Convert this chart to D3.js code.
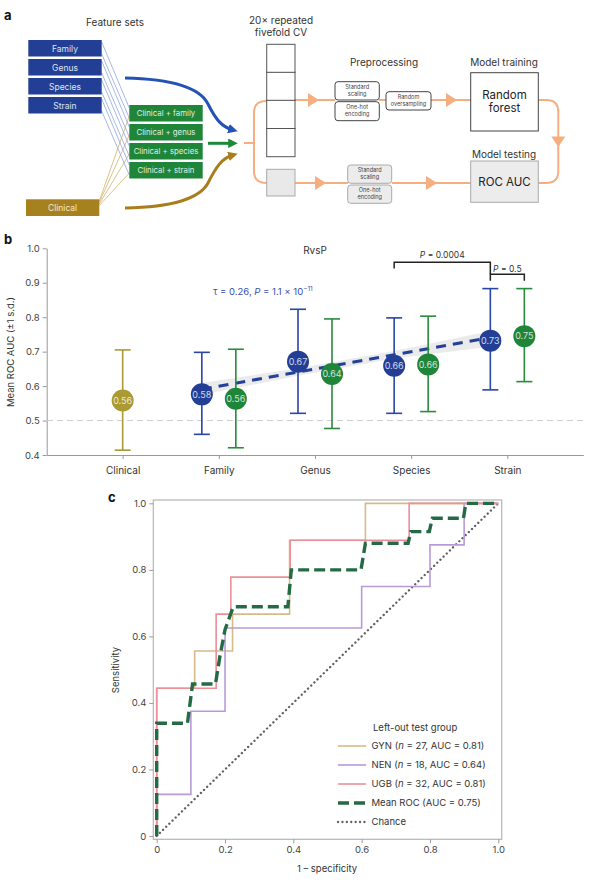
<!DOCTYPE html>
<html>
<head>
<meta charset="utf-8">
<script src="https://cdn.jsdelivr.net/npm/d3@7"></script>
<style>
  body { margin: 0; background: #fff; }
  text { font-family: Inter, "Noto Sans", sans-serif; }
</style>
</head>
<body>
<div id="fig"></div>
<script>
// ---- panel a labels
const featureSets = ['Family', 'Genus', 'Species', 'Strain'];
const combinedSets = ['Clinical + family', 'Clinical + genus', 'Clinical + species', 'Clinical + strain'];

// ---- panel b data (mean ROC AUC, ±1 s.d.)
const bCats = ['Clinical', 'Family', 'Genus', 'Species', 'Strain'];
const clinCats = ['Clinical'];
const clinMean = [0.558];
const clinLow = [0.414];
const clinHigh = [0.705];
const clinLabel = ['0.56'];
const microCats = ['Family', 'Genus', 'Species', 'Strain'];
const microMean = [0.576, 0.671, 0.659, 0.732];
const microLow = [0.460, 0.521, 0.521, 0.589];
const microHigh = [0.698, 0.823, 0.798, 0.883];
const microLabel = ['0.58', '0.67', '0.66', '0.73'];
const combMean = [0.563, 0.635, 0.663, 0.745];
const combLow = [0.421, 0.477, 0.526, 0.613];
const combHigh = [0.707, 0.795, 0.803, 0.883];
const combLabel = ['0.56', '0.64', '0.66', '0.75'];
const trendFit = [0.591, 0.641, 0.691, 0.741];
const trendLow = [0.575, 0.630, 0.680, 0.714];
const trendHigh = [0.609, 0.652, 0.702, 0.760];
const bTicks = [0.4, 0.5, 0.6, 0.7, 0.8, 0.9, 1.0];

// ---- panel c data (ROC curves)
const gynX = [0, 0, 0.111, 0.111, 0.222, 0.222, 0.389, 0.389, 0.611, 0.611, 1];
const gynY = [0, 0.444, 0.444, 0.556, 0.556, 0.667, 0.667, 0.889, 0.889, 1, 1];
const nenX = [0, 0, 0.1, 0.1, 0.2, 0.2, 0.6, 0.6, 0.8, 0.8, 0.9, 0.9, 1];
const nenY = [0, 0.125, 0.125, 0.375, 0.375, 0.625, 0.625, 0.75, 0.75, 0.875, 0.875, 1, 1];
const ugbX = [0, 0, 0.174, 0.174, 0.217, 0.217, 0.391, 0.391, 0.739, 0.739, 1];
const ugbY = [0, 0.444, 0.444, 0.667, 0.667, 0.778, 0.778, 0.889, 0.889, 1, 1];
const meanX = [0, 0, 0.09, 0.105, 0.172, 0.185, 0.2, 0.224, 0.384, 0.394, 0.598, 0.611, 0.736, 0.744, 0.798, 0.807, 0.898, 0.905, 1];
const meanY = [0, 0.339, 0.339, 0.457, 0.457, 0.54, 0.62, 0.689, 0.689, 0.80, 0.80, 0.88, 0.88, 0.915, 0.915, 0.955, 0.955, 1, 1];
const chanceX = [0, 1];
const chanceY = [0, 1];
const cTicks = [0, 0.2, 0.4, 0.6, 0.8, 1.0];
const legendNames = ['GYN', 'NEN', 'UGB'];
const legendN = [27, 18, 32];
const legendAUC = ['0.81', '0.64', '0.81'];

const svg = d3.select('#fig').append('svg')
  .attr('width', 600).attr('height', 889);

const BLUE = '#233f95', GREEN = '#1f8539', OLIVE = '#a99a35';
const ORANGE = '#f4ae80';

// arrow markers
const defs = svg.append('defs');
[['blue', '#2553b5'], ['green', '#1b8a3b'], ['gold', '#a87d1c']].forEach(([id, c]) => {
  defs.append('marker').attr('id', 'arr-' + id)
    .attr('viewBox', '0 0 10 10').attr('refX', 5).attr('refY', 5)
    .attr('markerWidth', 3.2).attr('markerHeight', 3.2).attr('orient', 'auto')
    .append('path').attr('d', 'M0,0 L10,5 L0,10 Z').attr('fill', c);
});

function panelLabel(t, x, y) {
  svg.append('text').attr('x', x).attr('y', y).text(t)
    .attr('font-size', 13).attr('font-weight', 'bold').attr('fill', '#111');
}

// ================= panel a =================
panelLabel('a', 4, 20);
const a = svg.append('g');
a.append('text').attr('x', 115).attr('y', 26).attr('text-anchor', 'middle')
  .attr('font-size', 10).attr('fill', '#333').text('Feature sets');

// connector lines (drawn under boxes)
featureSets.forEach((f, i) => {
  const by = 40 + i * 19, gy = 105 + i * 19;
  a.append('line').attr('x1', 101.7).attr('y1', by + 2).attr('x2', 129.3).attr('y2', gy + 3)
    .attr('stroke', '#8ea6e0').attr('stroke-width', 0.8);
  a.append('line').attr('x1', 101.7).attr('y1', by + 14).attr('x2', 129.3).attr('y2', gy + 13)
    .attr('stroke', '#8ea6e0').attr('stroke-width', 0.8);
  a.append('line').attr('x1', 99.3).attr('y1', 201 + i * 1.5).attr('x2', 129.3).attr('y2', gy + 11)
    .attr('stroke', '#d3b36a').attr('stroke-width', 0.8);
});

featureSets.forEach((f, i) => {
  const y = 40 + i * 19;
  a.append('rect').attr('x', 28.3).attr('y', y).attr('width', 73.4).attr('height', 16.5).attr('fill', BLUE);
  a.append('text').attr('x', 65).attr('y', y + 11.5).attr('text-anchor', 'middle')
    .attr('font-size', 8.5).attr('fill', '#dfe4f4').text(f);
});
combinedSets.forEach((f, i) => {
  const y = 105 + i * 19;
  a.append('rect').attr('x', 129.3).attr('y', y).attr('width', 73.4).attr('height', 16.5).attr('fill', GREEN);
  a.append('text').attr('x', 166).attr('y', y + 11.3).attr('text-anchor', 'middle')
    .attr('font-size', 7.8).attr('fill', '#e0efe3').text(f);
});
a.append('rect').attr('x', 26).attr('y', 199.3).attr('width', 73.3).attr('height', 16.7).attr('fill', '#a8811f');
a.append('text').attr('x', 62.6).attr('y', 211).attr('text-anchor', 'middle')
  .attr('font-size', 8.5).attr('fill', '#f3e8cf').text('Clinical');

// big arrows
a.append('path').attr('d', 'M125,78 C175,79 200,88 208,104 C216,120 222,127 233,130')
  .attr('fill', 'none').attr('stroke', '#2553b5').attr('stroke-width', 3).attr('marker-end', 'url(#arr-blue)');
a.append('path').attr('d', 'M208,143.3 L233,143.3')
  .attr('fill', 'none').attr('stroke', '#1b8a3b').attr('stroke-width', 3).attr('marker-end', 'url(#arr-green)');
a.append('path').attr('d', 'M125,208 C175,207 200,198 208,183 C216,167 222,158 233,155')
  .attr('fill', 'none').attr('stroke', '#a87d1c').attr('stroke-width', 3).attr('marker-end', 'url(#arr-gold)');

// CV header
a.append('text').attr('x', 281).attr('y', 24).attr('text-anchor', 'middle')
  .attr('font-size', 10).attr('fill', '#333').text('20× repeated');
a.append('text').attr('x', 281).attr('y', 36).attr('text-anchor', 'middle')
  .attr('font-size', 10).attr('fill', '#333').text('fivefold CV');

// orange flow lines
const flow = a.append('g').attr('fill', 'none').attr('stroke', ORANGE).attr('stroke-width', 2);
flow.append('path').attr('d', 'M244,143 H254');
flow.append('path').attr('d', 'M267,101 H266 Q254,101 254,113 V171 Q254,183 266,183 H267');
flow.append('path').attr('d', 'M295,100 H335');
flow.append('path').attr('d', 'M379,100 H386');
flow.append('path').attr('d', 'M431,100 H471');
flow.append('path').attr('d', 'M538,100 H546 Q558.3,100 558.3,112 V171 Q558.3,183 546,183 H538');
flow.append('path').attr('d', 'M295,183 H348');
flow.append('path').attr('d', 'M392,183 H471');

const tri = a.append('g').attr('fill', ORANGE);
[[308, 100], [446, 100], [315, 183], [426, 183]].forEach(([x, y]) => {
  tri.append('path').attr('d', `M${x},${y - 7} L${x + 11},${y} L${x},${y + 7} Z`);
});
tri.append('path').attr('d', 'M551.3,136.5 L565.3,136.5 L558.3,147 Z');

// CV stack
[44.3, 72.3, 100.3, 128.5].forEach(y => {
  a.append('rect').attr('x', 266.7).attr('y', y).attr('width', 28.3).attr('height', 28.2)
    .attr('fill', '#fff').attr('stroke', '#555').attr('stroke-width', 1);
});
a.append('rect').attr('x', 266.7).attr('y', 169.3).attr('width', 28.3).attr('height', 26.7)
  .attr('fill', '#e9e9e9').attr('stroke', '#aaa').attr('stroke-width', 1);

a.append('text').attr('x', 384).attr('y', 66).attr('text-anchor', 'middle')
  .attr('font-size', 10).attr('fill', '#333').text('Preprocessing');
a.append('text').attr('x', 504).attr('y', 66).attr('text-anchor', 'middle')
  .attr('font-size', 10).attr('fill', '#333').text('Model training');
a.append('text').attr('x', 504).attr('y', 158).attr('text-anchor', 'middle')
  .attr('font-size', 10).attr('fill', '#333').text('Model testing');

function smallBox(x, y, w, h, lines, fill, stroke) {
  a.append('rect').attr('x', x).attr('y', y).attr('width', w).attr('height', h).attr('rx', 3)
    .attr('fill', fill).attr('stroke', stroke).attr('stroke-width', 1);
  lines.forEach((t, k) => {
    a.append('text').attr('x', x + w / 2).attr('y', y + h / 2 - 1 + (k - (lines.length - 1) / 2) * 7.5 + 2.5)
      .attr('text-anchor', 'middle').attr('font-size', 5.6).attr('fill', '#444').text(t);
  });
}
smallBox(335, 81.7, 44.3, 18.3, ['Standard', 'scaling'], '#fff', '#444');
smallBox(335, 101.7, 44.3, 19, ['One-hot', 'encoding'], '#fff', '#444');
smallBox(386, 91.7, 45, 18.3, ['Random', 'oversampling'], '#fff', '#444');
smallBox(347.7, 165, 44, 18.3, ['Standard', 'scaling'], '#ececec', '#aaa');
smallBox(347.7, 185, 44, 18.3, ['One-hot', 'encoding'], '#ececec', '#aaa');

a.append('rect').attr('x', 470.7).attr('y', 72.7).attr('width', 67.6).attr('height', 58.3)
  .attr('fill', '#fff').attr('stroke', '#444').attr('stroke-width', 1);
a.append('text').attr('x', 504.5).attr('y', 99).attr('text-anchor', 'middle')
  .attr('font-size', 11.5).attr('fill', '#222').text('Random');
a.append('text').attr('x', 504.5).attr('y', 111.5).attr('text-anchor', 'middle')
  .attr('font-size', 11.5).attr('fill', '#222').text('forest');
a.append('rect').attr('x', 470.7).attr('y', 161).attr('width', 67.6).attr('height', 41.3)
  .attr('fill', '#ececec').attr('stroke', '#aaa').attr('stroke-width', 1);
a.append('text').attr('x', 504.5).attr('y', 186).attr('text-anchor', 'middle')
  .attr('font-size', 11.5).attr('fill', '#222').text('ROC AUC');

// ================= panel b =================
panelLabel('b', 4, 244);
const b = svg.append('g');
const xb = d3.scalePoint().domain(bCats).range([46.7, 583.3]).padding(0.79);
const yb = d3.scaleLinear().domain([0.4, 1.0]).range([455, 248.3]);

b.append('g').attr('transform', 'translate(46.7,0)')
  .call(d3.axisLeft(yb).tickValues(bTicks).tickFormat(d3.format('.1f')).tickSize(4).tickSizeOuter(0))
  .call(g => g.selectAll('text').attr('font-size', 9.5).attr('fill', '#444').attr('font-family', 'Inter, sans-serif'))
  .call(g => g.selectAll('line,path').attr('stroke', '#999'));
b.append('g').attr('transform', 'translate(0,455)')
  .call(d3.axisBottom(xb).tickSize(4).tickSizeOuter(0).tickPadding(8))
  .call(g => g.selectAll('text').attr('font-size', 10).attr('fill', '#333').attr('font-family', 'Inter, sans-serif'))
  .call(g => g.selectAll('line,path').attr('stroke', '#999'));

b.append('text').attr('transform', 'translate(14,352) rotate(-90)').attr('text-anchor', 'middle')
  .attr('font-size', 9.5).attr('fill', '#333').text('Mean ROC AUC (±1 s.d.)');

b.append('line').attr('x1', 47).attr('x2', 583).attr('y1', yb(0.5)).attr('y2', yb(0.5))
  .attr('stroke', '#cfcfcf').attr('stroke-width', 1).attr('stroke-dasharray', '6,4');

b.append('text').attr('x', 315).attr('y', 254).attr('text-anchor', 'middle')
  .attr('font-size', 10).attr('fill', '#333').text('RvsP');

const tauT = b.append('text').attr('x', 213).attr('y', 295).attr('font-size', 9.5).attr('fill', '#3a4fb0');
tauT.append('tspan').text('τ = 0.26, ');
tauT.append('tspan').attr('font-style', 'italic').text('P');
tauT.append('tspan').text(' = 1.1 × 10');
tauT.append('tspan').attr('font-size', 6.5).attr('dy', -4).text('−11');

// trend band + dashed fit
const OFF = 17;
const trendData = microCats.map((c, i) => ({ c, f: trendFit[i], lo: trendLow[i], hi: trendHigh[i] }));
b.append('path').datum(trendData)
  .attr('d', d3.area().x(d => xb(d.c) - OFF).y0(d => yb(d.lo)).y1(d => yb(d.hi)))
  .attr('fill', '#ebebeb');
b.append('path').datum([trendData[0], trendData[3]])
  .attr('d', d3.line().x(d => xb(d.c) - OFF).y(d => yb(d.f)))
  .attr('fill', 'none').attr('stroke', '#23409a').attr('stroke-width', 3).attr('stroke-dasharray', '10,7');

function errSeries(cats, mean, lo, hi, labels, off, barColor, dotColor) {
  const g = b.append('g');
  cats.forEach((c, i) => {
    const x = xb(c) + off;
    g.append('line').attr('x1', x).attr('x2', x).attr('y1', yb(lo[i])).attr('y2', yb(hi[i]))
      .attr('stroke', barColor).attr('stroke-width', 1.6);
    [lo[i], hi[i]].forEach(v => {
      g.append('line').attr('x1', x - 8).attr('x2', x + 8).attr('y1', yb(v)).attr('y2', yb(v))
        .attr('stroke', barColor).attr('stroke-width', 1.6);
    });
    g.append('circle').attr('cx', x).attr('cy', yb(mean[i])).attr('r', 11).attr('fill', dotColor);
    g.append('text').attr('x', x).attr('y', yb(mean[i]) + 3.3).attr('text-anchor', 'middle')
      .attr('font-size', 9).attr('fill', '#fff').attr('fill-opacity', 0.8).text(labels[i]);
  });
}
errSeries(clinCats, clinMean, clinLow, clinHigh, clinLabel, 0, OLIVE, OLIVE);
errSeries(microCats, microMean, microLow, microHigh, microLabel, -OFF, '#2a45a8', BLUE);
errSeries(microCats, combMean, combLow, combHigh, combLabel, OFF, '#2a8a3d', GREEN);

// significance brackets
const br = b.append('g').attr('fill', 'none').attr('stroke', '#222').attr('stroke-width', 1.5);
const sx = xb('Species') - OFF, tx = xb('Strain') - OFF, tx2 = xb('Strain') + OFF;
br.append('path').attr('d', `M${sx},268.5 V262.3 H${tx} V274.3`);
br.append('path').attr('d', `M${tx},280.7 V274.3 H${tx2} V280.7`);
const p1 = b.append('text').attr('x', (sx + tx) / 2).attr('y', 258).attr('text-anchor', 'middle')
  .attr('font-size', 8.5).attr('fill', '#333');
p1.append('tspan').attr('font-style', 'italic').text('P');
p1.append('tspan').text(' = 0.0004');
const p2 = b.append('text').attr('x', (tx + tx2) / 2).attr('y', 272).attr('text-anchor', 'middle')
  .attr('font-size', 8.5).attr('fill', '#333');
p2.append('tspan').attr('font-style', 'italic').text('P');
p2.append('tspan').text(' = 0.5');

// ================= panel c =================
panelLabel('c', 108, 502);
const c = svg.append('g');
const xc = d3.scaleLinear().domain([-0.01, 1.01]).range([153.3, 501.7]);
const yc = d3.scaleLinear().domain([-0.01, 1.01]).range([839.3, 500]);
const fmtC = d => d === 0 ? '0' : d3.format('.1f')(d);

c.append('rect').attr('x', 153.3).attr('y', 500).attr('width', 348.4).attr('height', 339.3)
  .attr('fill', 'none').attr('stroke', '#b5b5b5').attr('stroke-width', 1.2);
c.append('g').attr('transform', 'translate(153.3,0)')
  .call(d3.axisLeft(yc).tickValues(cTicks).tickFormat(fmtC).tickSize(4).tickSizeOuter(0))
  .call(g => g.select('.domain').remove())
  .call(g => g.selectAll('text').attr('font-size', 9.5).attr('fill', '#444').attr('font-family', 'Inter, sans-serif'))
  .call(g => g.selectAll('line').attr('stroke', '#999'));
c.append('g').attr('transform', 'translate(0,839.3)')
  .call(d3.axisBottom(xc).tickValues(cTicks).tickFormat(fmtC).tickSize(4).tickSizeOuter(0))
  .call(g => g.select('.domain').remove())
  .call(g => g.selectAll('text').attr('font-size', 9.5).attr('fill', '#444').attr('font-family', 'Inter, sans-serif'))
  .call(g => g.selectAll('line').attr('stroke', '#999'));

c.append('text').attr('transform', 'translate(119,670) rotate(-90)').attr('text-anchor', 'middle')
  .attr('font-size', 9.5).attr('fill', '#333').text('Sensitivity');
c.append('text').attr('x', 327).attr('y', 872).attr('text-anchor', 'middle')
  .attr('font-size', 9.5).attr('fill', '#333').text('1 – specificity');

const lineC = d3.line().x(d => xc(d[0])).y(d => yc(d[1]));
const zip = (xs, ys) => xs.map((v, i) => [v, ys[i]]);

const rocStyles = [
  { xs: chanceX, ys: chanceY, color: '#606060', w: 2.3, dash: '0.1,4.3', cap: 'round' },
  { xs: gynX, ys: gynY, color: '#d8b988', w: 1.6 },
  { xs: nenX, ys: nenY, color: '#b79bd8', w: 1.6 },
  { xs: ugbX, ys: ugbY, color: '#ee8e98', w: 1.6 },
  { xs: meanX, ys: meanY, color: '#236a45', w: 3.4, dash: '11,5' }
];
rocStyles.forEach(s => {
  c.append('path').datum(zip(s.xs, s.ys)).attr('d', lineC)
    .attr('fill', 'none').attr('stroke', s.color).attr('stroke-width', s.w)
    .attr('stroke-dasharray', s.dash || null).attr('stroke-linecap', s.cap || 'butt');
});

// legend
const lg = c.append('g');
lg.append('text').attr('x', 373).attr('y', 731).attr('font-size', 9.5).attr('fill', '#333').text('Left-out test group');
const legItems = legendNames.map((n, i) => ({ n, style: rocStyles[i + 1], num: legendN[i], auc: legendAUC[i] }));
legItems.push({ mean: true, style: rocStyles[4] });
legItems.push({ chance: true, style: rocStyles[0] });
legItems.forEach((d, i) => {
  const y = 746 + i * 19;
  lg.append('line').attr('x1', 338).attr('x2', 366).attr('y1', y).attr('y2', y)
    .attr('stroke', d.style.color).attr('stroke-width', d.style.w)
    .attr('stroke-dasharray', d.style.dash || null).attr('stroke-linecap', d.style.cap || 'butt');
  const t = lg.append('text').attr('x', 371.5).attr('y', y + 3.4).attr('font-size', 9.5).attr('fill', '#333');
  if (d.mean) t.text('Mean ROC (AUC = 0.75)');
  else if (d.chance) t.text('Chance');
  else {
    t.append('tspan').text(d.n + ' (');
    t.append('tspan').attr('font-style', 'italic').text('n');
    t.append('tspan').text(` = ${d.num}, AUC = ${d.auc})`);
  }
});
</script>
</body>
</html>
